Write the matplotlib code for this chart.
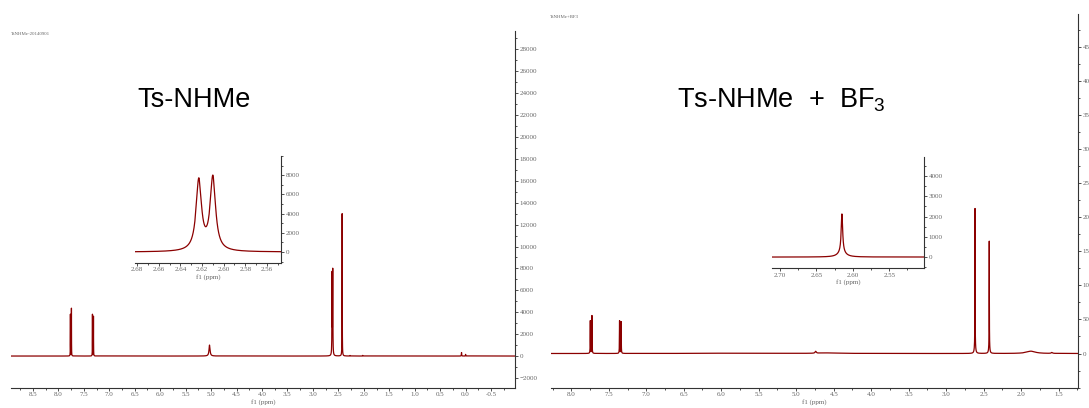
import numpy as np
import matplotlib.pyplot as plt
from matplotlib.ticker import MultipleLocator, FormatStrFormatter

plt.rcParams['mathtext.default'] = 'regular'

# Peak tables: shift (ppm), height, half width (ppm)
free_shift = [7.763, 7.743, 7.330, 7.310, 5.030, 2.623, 2.610, 2.425, 2.27, 2.02, 0.080, 0.000]
free_height = [3800, 4350, 3800, 3620, 1000, 7350, 7650, 13000, 50, 60, 320, 150]
free_width = [0.0015, 0.0015, 0.0015, 0.0015, 0.012, 0.003, 0.003, 0.002, 0.004, 0.004, 0.003, 0.003]

bf3_shift = [7.746, 7.724, 7.356, 7.335, 4.74, 4.55, 5.70, 2.615, 2.615, 2.425, 2.425, 1.87, 1.59]
bf3_height = [480, 555, 480, 465, 28, 8, 6, 1900, 230, 1480, 170, 34, 14]
bf3_width = [0.0018, 0.0018, 0.0018, 0.0018, 0.01, 0.15, 0.5, 0.0012, 0.006, 0.0012, 0.006, 0.07, 0.01]

free_ticks_y = np.arange(-2000, 28001, 2000)
free_inset_ticks_y = np.arange(0, 8001, 2000)
bf3_ticks_y = np.arange(0, 4501, 500)
bf3_inset_ticks_y = np.arange(0, 4001, 1000)


def spectrum(x, shifts, heights, widths):
    y = np.zeros_like(x)
    for s, h, w in zip(shifts, heights, widths):
        y += h / (1 + ((x - s) / w) ** 2)
    return y


RED = '#8b0000'
SPINE = '#333333'
TXT = '#666666'


def style(ax, xmaj, xmin, ymaj, ymin, fmt_x):
    for s in ('top', 'left'):
        ax.spines[s].set_visible(False)
    for s in ('bottom', 'right'):
        ax.spines[s].set_color(SPINE)
        ax.spines[s].set_linewidth(0.8)
    ax.yaxis.tick_right()
    ax.xaxis.set_major_locator(MultipleLocator(xmaj))
    ax.xaxis.set_minor_locator(MultipleLocator(xmin))
    ax.yaxis.set_major_locator(MultipleLocator(ymaj))
    ax.yaxis.set_minor_locator(MultipleLocator(ymin))
    ax.xaxis.set_major_formatter(FormatStrFormatter(fmt_x))
    ax.tick_params(which='both', direction='out', color=SPINE, width=0.6, pad=1,
                   labelsize=5, labelcolor=TXT)
    ax.tick_params(which='major', length=2.2)
    ax.tick_params(which='minor', length=1.4)
    for lab in ax.get_xticklabels() + ax.get_yticklabels():
        lab.set_fontfamily('Liberation Serif')
    ax.set_xlabel('f1 (ppm)', fontfamily='Liberation Serif', fontsize=5, color=TXT, labelpad=1)
    ax.patch.set_alpha(0)


fig = plt.figure(figsize=(10.89, 4.08), dpi=100)

# Free amide
ax1 = fig.add_axes([0.0101, 0.049, 0.4628, 0.875])
x1 = np.linspace(-0.97, 8.93, 200000)
ax1.plot(x1, spectrum(x1, free_shift, free_height, free_width), color=RED, lw=0.9)
ax1.set_xlim(8.93, -0.97)
ax1.set_ylim(-2920, 29680)
ax1.set_yticks(free_ticks_y)
style(ax1, 0.5, 0.25, 2000, 1000, '%.1f')
ax1.set_yticks(free_ticks_y)

ins1 = fig.add_axes([0.124, 0.3554, 0.134, 0.262])
xi1 = np.linspace(2.547, 2.682, 4000)
ins1.plot(xi1, spectrum(xi1, free_shift, free_height, free_width), color=RED, lw=0.9)
ins1.set_xlim(2.682, 2.547)
ins1.set_ylim(-1146, 10000)
style(ins1, 0.02, 0.01, 2000, 1000, '%.2f')
ins1.set_yticks(free_inset_ticks_y)

# BF3 adduct
ax2 = fig.add_axes([0.506, 0.049, 0.484, 0.917])
x2 = np.linspace(1.24, 8.27, 200000)
ax2.plot(x2, spectrum(x2, bf3_shift, bf3_height, bf3_width), color=RED, lw=0.9)
ax2.set_xlim(8.27, 1.24)
ax2.set_ylim(-507, 4990)
style(ax2, 0.5, 0.25, 500, 250, '%.1f')
ax2.set_yticks(bf3_ticks_y)

ins2 = fig.add_axes([0.709, 0.343, 0.1396, 0.272])
xi2 = np.linspace(2.502, 2.711, 4000)
ins2.plot(xi2, spectrum(xi2, bf3_shift, bf3_height, bf3_width), color=RED, lw=0.9)
ins2.set_xlim(2.711, 2.502)
ins2.set_ylim(-543, 4938)
style(ins2, 0.05, 0.025, 1000, 500, '%.2f')
ins2.set_yticks(bf3_inset_ticks_y)

for ax in (ax1, ins1, ax2, ins2):
    for lab in ax.get_xticklabels() + ax.get_yticklabels():
        lab.set_fontfamily('Liberation Serif')

# Labels
fig.text(0.178, 0.755, 'Ts-NHMe', family='Liberation Sans', fontsize=19.5, ha='center', va='center')
fig.text(0.6217, 0.755, 'Ts-NHMe  +  BF$_3$', family='Liberation Sans', fontsize=19.5,
         ha='left', va='center')
fig.text(0.0101, 0.917, 'TsNHMe-20140901', family='Liberation Serif', fontsize=3.5, color=TXT, va='center')
fig.text(0.505, 0.958, 'TsNHMe+BF3', family='Liberation Serif', fontsize=3.5, color=TXT, va='center')

fig.savefig('out.png', dpi=100)
